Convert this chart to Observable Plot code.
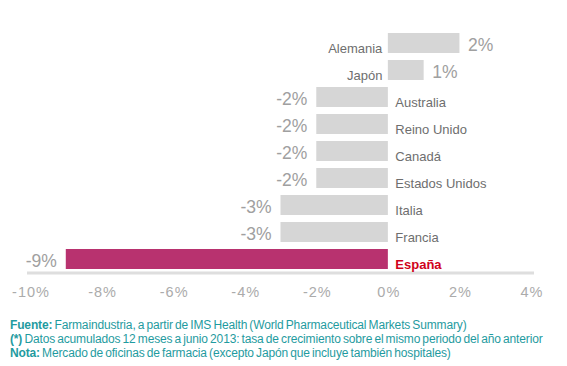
<!DOCTYPE html>
<html>
<head>
<meta charset="utf-8">
<script src="https://cdn.jsdelivr.net/npm/d3@7"></script>
<script src="https://cdn.jsdelivr.net/npm/@observablehq/plot@0.6"></script>
<style>
  html, body { margin: 0; padding: 0; background: #fff; }
  #chart svg { display: block; }
  g[aria-label="value-label"] text { letter-spacing: 1.8px; }
  g[aria-label="x-axis tick label"] text { letter-spacing: 1px; }
  #footer {
    font-family: "Liberation Sans", Arial, sans-serif;
    font-size: 12px;
    line-height: 14px;
    color: #1f9ba0;
    padding-left: 10px;
    margin-top: 8px;
    letter-spacing: -0.15px;
    word-spacing: -1px;
    white-space: nowrap;
  }
  #footer b { font-weight: bold; }
</style>
</head>
<body>
<div id="chart"></div>
<div id="footer">
  <div><b>Fuente:</b> Farmaindustria, a partir de IMS Health (World Pharmaceutical Markets Summary)</div>
  <div><b>(*)</b> Datos acumulados 12 meses a junio 2013: tasa de crecimiento sobre el mismo periodo del año anterior</div>
  <div><b>Nota:</b> Mercado de oficinas de farmacia (excepto Japón que incluye también hospitales)</div>
</div>
<script>
const countries = ["Alemania", "Japón", "Australia", "Reino Unido", "Canadá", "Estados Unidos", "Italia", "Francia", "España"];
const values = [2, 1, -2, -2, -2, -2, -3, -3, -9];
const xTicks = [-10, -8, -6, -4, -2, 0, 2, 4];
const highlight = "España";

const data = countries.map((c, i) => ({country: c, value: values[i]}));
const pos = data.filter(d => d.value >= 0);
const neg = data.filter(d => d.value < 0);
const fmt = d => d + "%";

const chart = Plot.plot({
  width: 567,
  height: 310,
  marginLeft: 30,
  marginRight: 36,
  marginTop: 29.5,
  marginBottom: 37.5,
  style: {fontFamily: "'Liberation Sans', Arial, sans-serif", background: "#fff"},
  x: {domain: [-10, 4], label: null},
  y: {domain: countries, paddingInner: 0.26, paddingOuter: 0.13, axis: null},
  marks: [
    Plot.frame({anchor: "bottom", stroke: "#dedede", strokeWidth: 3, insetLeft: -2, insetRight: -1}),
    Plot.barX(data, {
      x: "value", y: "country",
      fill: d => d.country === highlight ? "#b8326f" : "#d6d6d6"
    }),
    Plot.axisX({ticks: xTicks, tickFormat: fmt, tickSize: 0, tickPadding: 14, fontSize: 14.5, fill: "#ababab", label: null, dx: 0.5}),
    // value labels
    Plot.text(pos, {x: "value", y: "country", text: d => fmt(d.value), textAnchor: "start", dx: 8, dy: 7, lineAnchor: "bottom", fontSize: 17.5, fill: "#a0a0a0", ariaLabel: "value-label"}),
    Plot.text(neg, {x: "value", y: "country", text: d => fmt(d.value), textAnchor: "end", dx: -9.5, dy: 7, lineAnchor: "bottom", fontSize: 17.5, fill: "#a0a0a0", ariaLabel: "value-label"}),
    // country labels
    Plot.text(pos, {x: 0, y: "country", text: "country", textAnchor: "end", dx: -6, dy: 9, lineAnchor: "bottom", fontSize: 13, fill: "#6e6e6e"}),
    Plot.text(neg.filter(d => d.country !== highlight), {x: 0, y: "country", text: "country", textAnchor: "start", dx: 7, dy: 9, lineAnchor: "bottom", fontSize: 13, fill: "#6e6e6e"}),
    Plot.text(neg.filter(d => d.country === highlight), {x: 0, y: "country", text: "country", textAnchor: "start", dx: 7, dy: 9, lineAnchor: "bottom", fontSize: 13, fontWeight: "bold", fill: "#d0021b"})
  ]
});
document.getElementById("chart").appendChild(chart);
</script>
</body>
</html>
